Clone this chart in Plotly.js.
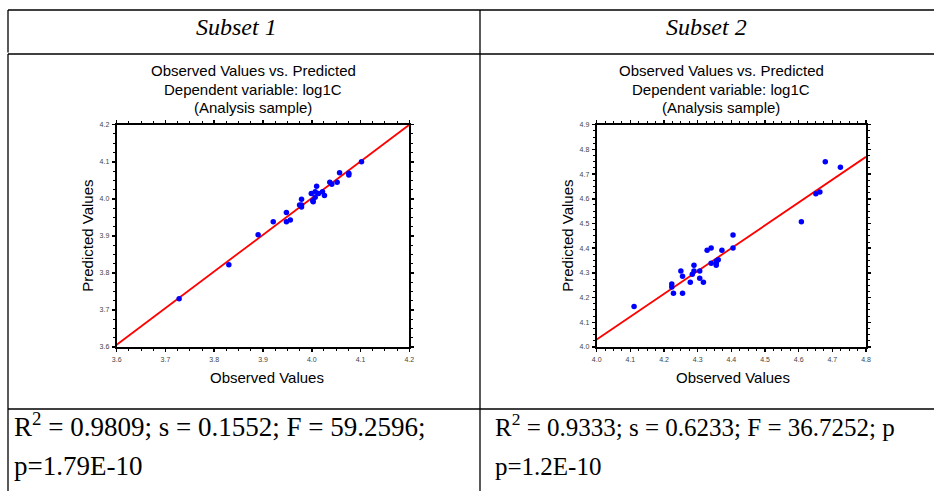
<!DOCTYPE html>
<html>
<head>
<meta charset="utf-8">
<script src="https://cdn.plot.ly/plotly-3.0.1.min.js"></script>
<style>html,body{margin:0;padding:0;background:#fff;}#chart{width:934px;height:491px;}</style>
</head>
<body>
<div id="chart"></div>
<script>
// ---- Data ----
const subset1Observed = [3.728,3.830,3.890,3.921,3.948,3.948,3.956,3.975,3.979,3.979,3.979,3.999,4.002,4.003,4.007,4.010,4.007,4.014,4.022,4.026,4.037,4.041,4.052,4.057,4.076,4.076,4.102];
const subset1Predicted = [3.730,3.822,3.903,3.938,3.963,3.938,3.943,3.983,3.983,3.999,3.978,4.014,3.995,3.992,4.019,4.034,4.004,4.014,4.019,4.009,4.045,4.039,4.045,4.070,4.064,4.069,4.100];
const subset1FitX = [3.6, 4.2];
const subset1FitY = [3.606, 4.2];

const subset2Observed = [4.111,4.223,4.223,4.228,4.255,4.250,4.255,4.278,4.284,4.289,4.289,4.306,4.306,4.317,4.328,4.340,4.340,4.355,4.355,4.356,4.361,4.372,4.405,4.405,4.608,4.651,4.663,4.679,4.724];
const subset2Predicted = [4.164,4.255,4.243,4.218,4.218,4.308,4.286,4.262,4.295,4.331,4.308,4.308,4.278,4.262,4.392,4.401,4.339,4.339,4.331,4.348,4.353,4.392,4.453,4.401,4.507,4.620,4.628,4.750,4.728];
const subset2FitX = [4.0, 4.8];
const subset2FitY = [4.030, 4.770];

const columnHeaders = ["Subset 1", "Subset 2"];
const plotTitleLines = ["Observed Values vs. Predicted", "Dependent variable: log1C", "(Analysis sample)"];
const xTitle = "Observed Values";
const yTitle = "Predicted Values";
const statsLine1 = ["R<sup>2</sup> = 0.9809; s = 0.1552; F = 59.2596;", "R<sup>2</sup> = 0.9333; s = 0.6233; F = 36.7252; p"];
const statsLine2 = ["p=1.79E-10", "p=1.2E-10"];
const subset1Range = [3.6, 4.2];
const subset2XRange = [4.0, 4.8];
const subset2YRange = [4.0, 4.9];

// ---- Geometry helpers ----
const W = 934, H = 491;
const px = v => v / W;
const py = v => 1 - v / H;

const traces = [
  {x: subset1FitX, y: subset1FitY, type: 'scatter', mode: 'lines', line: {color: '#ff0000', width: 1.8}, xaxis: 'x', yaxis: 'y', hoverinfo: 'skip'},
  {x: subset1Observed, y: subset1Predicted, type: 'scatter', mode: 'markers', marker: {color: '#0000ff', size: 5.5}, xaxis: 'x', yaxis: 'y'},
  {x: subset2FitX, y: subset2FitY, type: 'scatter', mode: 'lines', line: {color: '#ff0000', width: 1.8}, xaxis: 'x2', yaxis: 'y2', hoverinfo: 'skip'},
  {x: subset2Observed, y: subset2Predicted, type: 'scatter', mode: 'markers', marker: {color: '#0000ff', size: 5.5}, xaxis: 'x2', yaxis: 'y2'}
];

function axis(range, domain, anchor) {
  return {
    range: range, domain: domain, anchor: anchor,
    showgrid: false, zeroline: false,
    showline: true, linecolor: '#000', linewidth: 2, mirror: 'ticks',
    ticks: 'outside', ticklen: 3, tickwidth: 1.5, tickcolor: '#000',
    dtick: 0.1, tickformat: '.1f',
    tickfont: {family: 'Liberation Sans, Arial, sans-serif', size: 7, color: '#444'},
    minor: {dtick: 0.025, ticks: 'outside', ticklen: 2, tickwidth: 1, tickcolor: '#000', showgrid: false},
    fixedrange: true
  };
}

const yDom = [py(347), py(124.7)];
const layout = {
  width: W, height: H,
  margin: {l: 0, r: 0, t: 0, b: 0},
  paper_bgcolor: '#fff', plot_bgcolor: '#fff',
  showlegend: false,
  xaxis: axis(subset1Range, [px(116.7), px(409.3)], 'y'),
  yaxis: axis(subset1Range, yDom, 'x'),
  xaxis2: axis(subset2XRange, [px(596.7), px(866)], 'y2'),
  yaxis2: axis(subset2YRange, yDom, 'x2'),
  shapes: [],
  annotations: []
};
layout.xaxis.ticklabelstandoff = 2;
layout.xaxis2.ticklabelstandoff = 2;
layout.yaxis.ticklabelstandoff = 1;
layout.yaxis2.ticklabelstandoff = 1;

// table lines
const lineStyle = {color: '#000', width: 1.3};
function hline(y, x0, x1) { layout.shapes.push({type: 'line', xref: 'paper', yref: 'paper', x0: px(x0), x1: px(x1), y0: py(y), y1: py(y), line: lineStyle}); }
function vline(x, y0, y1) { layout.shapes.push({type: 'line', xref: 'paper', yref: 'paper', x0: px(x), x1: px(x), y0: py(y0), y1: py(y1), line: lineStyle}); }
hline(10, 8, 934);
hline(54, 8, 934);
hline(409, 8, 934);
vline(8, 10, 52.5);
vline(8, 54, 491);
vline(480, 10, 491);

function ann(text, x, y, font, xanchor) {
  layout.annotations.push({text: text, x: px(x), y: py(y), xref: 'paper', yref: 'paper', showarrow: false, xanchor: xanchor || 'center', yanchor: 'middle', font: font});
}
const serifItalic = {family: 'Liberation Serif, Times New Roman, serif', size: 24, color: '#000', style: 'italic'};
const serifL = {family: 'Liberation Serif, Times New Roman, serif', size: 27, color: '#000'};
const serifR = {family: 'Liberation Serif, Times New Roman, serif', size: 25, color: '#000'};
const sans = {family: 'Liberation Sans, Arial, sans-serif', size: 15, color: '#000'};

const centers = [[253, 263, 267, 88], [721, 731, 733, 568]];
ann(columnHeaders[0], 237, 27, serifItalic);
ann(columnHeaders[1], 706, 27, serifItalic);
[0, 1].forEach(i => {
  const c = centers[i];
  plotTitleLines.forEach((t, k) => ann(t, c[0], 71 + k * 18.5, sans));
  ann(xTitle, c[2], 377, sans);
  layout.annotations.push({text: yTitle, x: px(c[3]), y: py(235.8), xref: 'paper', yref: 'paper', showarrow: false, textangle: -90, xanchor: 'center', yanchor: 'middle', font: sans});
});
ann(statsLine1[0], 12, 425, serifL, 'left');
ann(statsLine2[0], 12, 466, serifL, 'left');
ann(statsLine1[1], 493, 425, serifR, 'left');
ann(statsLine2[1], 493, 466, serifR, 'left');

Plotly.newPlot('chart', traces, layout, {staticPlot: true});
</script>
</body>
</html>
